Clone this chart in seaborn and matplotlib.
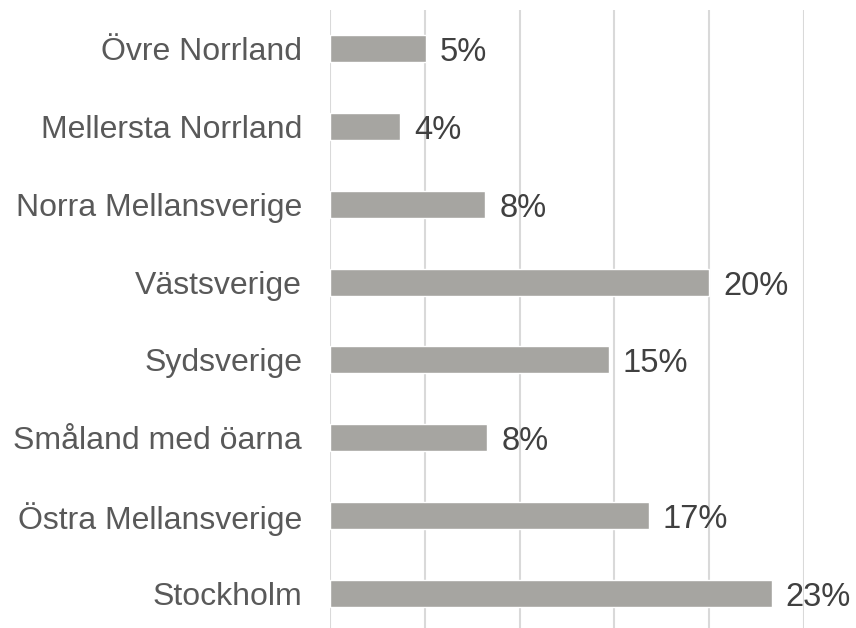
import matplotlib
matplotlib.use("Agg")
import matplotlib.pyplot as plt
import seaborn as sns
import pandas as pd

# data (percent)
regions = ["Övre Norrland", "Mellersta Norrland", "Norra Mellansverige", "Västsverige",
           "Sydsverige", "Småland med öarna", "Östra Mellansverige", "Stockholm"]
shares = [5.05, 3.7, 8.2, 20.0, 14.7, 8.3, 16.8, 23.3]
labels = ["5%", "4%", "8%", "20%", "15%", "8%", "17%", "23%"]

df = pd.DataFrame({"region": regions, "share": shares})

sns.set_theme(style="white")
plt.rcParams["font.family"] = ["Liberation Sans", "DejaVu Sans"]

fig = plt.figure(figsize=(8.56, 6.28), dpi=100)
ax = fig.add_axes([330 / 856, -4 / 628, 474 / 856, 622 / 628])

sns.barplot(data=df, x="share", y="region", orient="h", color="#A6A5A1",
            saturation=1, width=0.35, ax=ax, zorder=3)

for i, (v, lab) in enumerate(zip(shares, labels)):
    ax.annotate(lab, (v, i), xytext=(14, -4), textcoords="offset pixels",
                ha="left", va="center", fontsize=23.5, color="#404040")

ax.set_xlim(0, 25)
ax.set_ylim(7.5, -0.5)
ax.set_xticks([0, 5, 10, 15, 20, 25])
ax.set_xticklabels([])
ax.xaxis.grid(True, color="#D9D9D9", linewidth=1.5, zorder=0)
ax.set_axisbelow(True)
ax.tick_params(axis="both", length=0)
ax.tick_params(axis="y", pad=20, labelsize=23, labelcolor="#595959")
ax.set_xlabel("")
ax.set_ylabel("")
sns.despine(ax=ax, left=True, bottom=True)

fig.savefig("out.png", dpi=100)
